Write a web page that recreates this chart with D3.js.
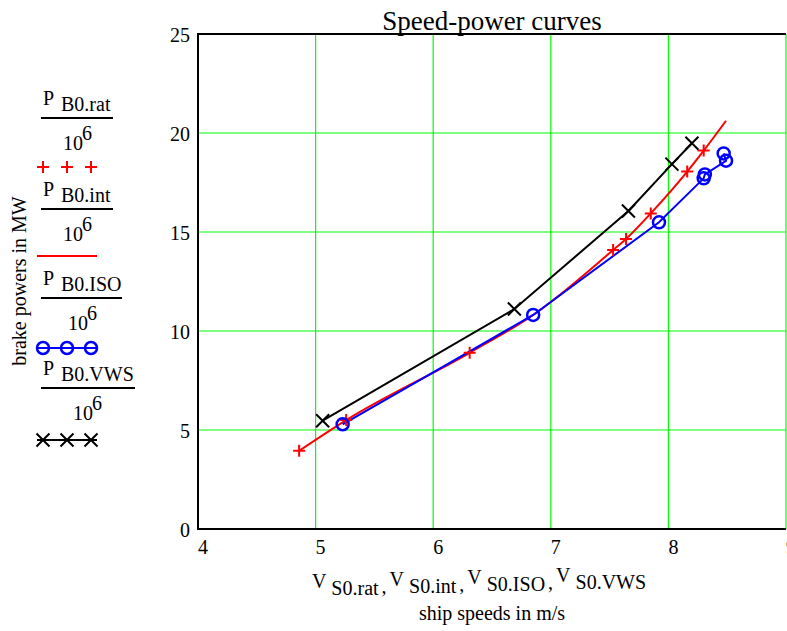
<!DOCTYPE html>
<html><head><meta charset="utf-8">
<script src="https://cdn.jsdelivr.net/npm/d3@7"></script>
<style>body{margin:0;background:#fff}svg{display:block}text{font-family:"Liberation Serif","Times New Roman",serif;fill:#000}</style>
</head><body><svg id="c" width="787" height="631"></svg>
<script>
// ---- data ----
const xTicks = [4,5,6,7,8,9];
const yTicks = [0,5,10,15,20,25];
// rated points (red +)
const ratV = [4.86,5.26,6.31,7.53,7.64,7.85,8.16,8.30];
const ratP = [3.95,5.50,8.90,14.09,14.65,15.94,18.05,19.11];
// interpolated curve (red line)
const intV = [4.86,5.26,6.31,6.86,7.53,7.64,7.85,8.16,8.30,8.49];
const intP = [3.95,5.50,8.90,10.85,14.09,14.65,15.94,18.05,19.11,20.62];
// ISO (blue circles + line)
const isoV = [5.23,6.85,7.92,8.30,8.31,8.49,8.47];
const isoP = [5.29,10.81,15.49,17.71,17.91,18.60,18.97];
// VWS (black x + line)
const vwsV = [5.06,6.69,7.66,8.03,8.20];
const vwsP = [5.47,11.11,16.06,18.43,19.48];
const legendSubs = ["B0.rat","B0.int","B0.ISO","B0.VWS"];
const xSubs = ["S0.rat","S0.int","S0.ISO","S0.VWS"];

const svg = d3.select("#c");
const x = d3.scaleLinear().domain([4,9]).range([198,786]);
const y = d3.scaleLinear().domain([0,25]).range([529,34]);
const zip = (a,b)=>a.map((v,i)=>[v,b[i]]);

// grid
svg.append("g").selectAll("line").data(xTicks.slice(1)).join("line")
  .attr("x1",d=>x(d)).attr("x2",d=>x(d)).attr("y1",y(0)).attr("y2",y(25))
  .attr("stroke","#00ff00").attr("stroke-width",1.2);
svg.append("g").selectAll("line").data(yTicks.slice(1)).join("line")
  .attr("x1",x(4)).attr("x2",x(9)).attr("y1",d=>y(d)).attr("y2",d=>y(d))
  .attr("stroke","#00ff00").attr("stroke-width",1.2);
// frame
svg.append("path").attr("d",`M${x(9)},${y(25)}H${x(4)}V${y(0)}H${x(9)}`)
  .attr("fill","none").attr("stroke","#000").attr("stroke-width",2);

// tick labels
svg.append("g").selectAll("text").data(xTicks).join("text")
  .attr("x",d=>x(d)).attr("y",y(0)+25).attr("font-size",20).text(d=>d);
svg.append("g").selectAll("text").data(yTicks).join("text")
  .attr("x",x(4)-8).attr("y",d=>y(d)+8).attr("text-anchor","end").attr("font-size",20).text(d=>d);

// title
svg.append("text").attr("x",(x(4)+x(9))/2).attr("y",30).attr("text-anchor","middle")
  .attr("font-size",27).text("Speed-power curves");

// lines
const line = d3.line().x(d=>x(d[0])).y(d=>y(d[1]));
svg.append("path").datum(zip(vwsV,vwsP)).attr("d",line)
  .attr("fill","none").attr("stroke","#000").attr("stroke-width",2);
svg.append("path").datum(zip(intV,intP)).attr("d",line.curve(d3.curveMonotoneX))
  .attr("fill","none").attr("stroke","#ff0000").attr("stroke-width",2);
line.curve(d3.curveLinear);
svg.append("path").datum(zip(isoV,isoP)).attr("d",line)
  .attr("fill","none").attr("stroke","#0000ff").attr("stroke-width",2);

// markers
const plusD = "M-6,0H6M0,-6V6";
const xD = "M-6.5,-6.5L6.5,6.5M-6.5,6.5L6.5,-6.5";
svg.append("g").selectAll("path").data(zip(ratV,ratP)).join("path")
  .attr("transform",d=>`translate(${x(d[0])},${y(d[1])})`).attr("d",plusD)
  .attr("stroke","#ff0000").attr("stroke-width",2);
svg.append("g").selectAll("circle").data(zip(isoV,isoP)).join("circle")
  .attr("cx",d=>x(d[0])).attr("cy",d=>y(d[1])).attr("r",6)
  .attr("fill","none").attr("stroke","#0000ff").attr("stroke-width",2.5);
svg.append("g").selectAll("path").data(zip(vwsV,vwsP)).join("path")
  .attr("transform",d=>`translate(${x(d[0])},${y(d[1])})`).attr("d",xD)
  .attr("stroke","#000").attr("stroke-width",2);

// axis titles
const xt = svg.append("text").attr("x",479).attr("y",588).attr("text-anchor","middle").attr("font-size",20);
xSubs.forEach((s,i)=>{
  xt.append("tspan").attr("dy",i===0?0:-7).attr("dx",i===0?0:3).text("V");
  xt.append("tspan").attr("dy",7).text("\u00a0"+s);
  if(i<3) xt.append("tspan").attr("dx",3).attr("dy",-2).text(",");
  if(i<3) xt.append("tspan").attr("dy",2).text("");
});
svg.append("text").attr("x",492).attr("y",620).attr("text-anchor","middle").attr("font-size",20)
  .text("ship speeds in m/s");
svg.append("text").attr("transform","translate(26,281) rotate(-90)").attr("text-anchor","middle")
  .attr("font-size",20).text("brake powers in MW");

// legend
const lg = [
  {line:118, w:72, ten:63, mk:167},
  {line:209, w:72, ten:63, mk:256},
  {line:298, w:81, ten:68, mk:348},
  {line:388, w:94, ten:73, mk:440}
];
const L = svg.append("g");
lg.forEach((e,i)=>{
  const t = L.append("text").attr("x",43).attr("y",e.line-13).attr("font-size",20);
  t.append("tspan").text("P");
  t.append("tspan").attr("x",61).attr("dy",6).text(legendSubs[i]);
  L.append("line").attr("x1",41).attr("x2",41+e.w).attr("y1",e.line).attr("y2",e.line)
    .attr("stroke","#000").attr("stroke-width",2);
  L.append("text").attr("x",e.ten).attr("y",e.line+32).attr("font-size",20).text("10");
  L.append("text").attr("x",e.ten+19).attr("y",e.line+22).attr("font-size",20).text("6");
});
const mx = [43,67,91];
// rat legend: + only
L.append("g").selectAll("path").data(mx).join("path")
  .attr("transform",d=>`translate(${d},${lg[0].mk})`).attr("d",plusD)
  .attr("stroke","#ff0000").attr("stroke-width",2);
// int legend: red line
L.append("line").attr("x1",37).attr("x2",97).attr("y1",lg[1].mk).attr("y2",lg[1].mk)
  .attr("stroke","#ff0000").attr("stroke-width",2);
// iso legend
L.append("line").attr("x1",37).attr("x2",97).attr("y1",lg[2].mk).attr("y2",lg[2].mk)
  .attr("stroke","#0000ff").attr("stroke-width",2);
L.append("g").selectAll("circle").data(mx).join("circle")
  .attr("cx",d=>d).attr("cy",lg[2].mk).attr("r",6)
  .attr("fill","none").attr("stroke","#0000ff").attr("stroke-width",2.5);
// vws legend
L.append("line").attr("x1",37).attr("x2",97).attr("y1",lg[3].mk).attr("y2",lg[3].mk)
  .attr("stroke","#000").attr("stroke-width",2);
L.append("g").selectAll("path").data(mx).join("path")
  .attr("transform",d=>`translate(${d},${lg[3].mk})`).attr("d",xD)
  .attr("stroke","#000").attr("stroke-width",2);
</script></body></html>
